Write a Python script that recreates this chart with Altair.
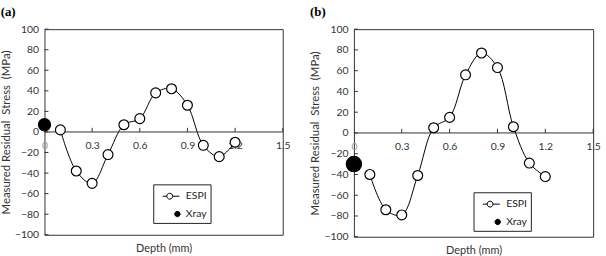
import altair as alt
import pandas as pd

depth = [0.1, 0.2, 0.3, 0.4, 0.5, 0.6, 0.7, 0.8, 0.9, 1.0, 1.1, 1.2]
espi_a = [2, -38, -50, -22, 7, 13, 38, 42, 26, -13, -24, -10]
espi_b = [-40, -74, -79, -41, 5, 15, 56, 77, 63, 6, -29, -42]
xray_depth = [0.0]
xray_a = [7]
xray_b = [-30]
y_ticks = [-100, -80, -60, -40, -20, 0, 20, 40, 60, 80, 100]
x_ticks = [0.0, 0.3, 0.6, 0.9, 1.2, 1.5]
series = ["ESPI", "Xray"]

FONT = "Lato"
NB = "\u00a0"
Y_TITLE = f"Measured Residual {NB}Stress {NB}(MPa)"
ESPI_PATH = "M-1,0H-0.5M0.2,0H1M-0.5,0A0.35,0.35 0 1,0 0.2,0A0.35,0.35 0 1,0 -0.5,0Z"
XRAY_PATH = "M0.44,0A0.32,0.32 0 1,0 1.08,0A0.32,0.32 0 1,0 0.44,0Z"


def panel(label, espi, xray, w, h, lx, ly, lab_pad, xray_size):
    df_line = pd.DataFrame({"depth": depth, "stress": espi})
    df_pts = pd.DataFrame({
        "depth": depth + xray_depth,
        "stress": espi + xray,
        "series": ["ESPI"] * len(depth) + ["Xray"] * len(xray),
    })
    df_xt = pd.DataFrame({"depth": x_ticks[1:], "stress": [0] * 5, "stress2": [4] * 5})
    df_yt = pd.DataFrame({"stress": y_ticks})
    df_zero = pd.DataFrame({"stress": [0]})

    xs = alt.Scale(domain=[0, 1.5], nice=False, zero=False)
    ys = alt.Scale(domain=[-100, 100], nice=False)
    fill_scale = alt.Scale(domain=series, range=["white", "black"])

    x_axis = alt.Axis(
        values=x_ticks, domain=False, ticks=False, grid=False,
        labelPadding=lab_pad, labelFlush=False, labelOverlap=False,
        labelFont=FONT, labelFontSize=10.5,
        labelExpr="datum.value == 0 ? '0' : format(datum.value, '.1f')",
        labelColor={"condition": {"test": "datum.value == 0", "value": "#999"}, "value": "#333"},
        title="Depth (mm)", titleFont=FONT, titleFontSize=11, titleFontWeight="normal",
        titleColor="#333", titlePadding=8,
    )
    y_axis = alt.Axis(
        values=y_ticks, domain=False, ticks=False, grid=False,
        labelPadding=6, labelOverlap=False, labelFont=FONT, labelFontSize=10.5, labelColor="#333",
        title=Y_TITLE, titleFont=FONT, titleFontSize=11.5,
        titleFontWeight="normal", titleColor="#333", titlePadding=3,
    )
    legend = alt.Legend(
        title=None, orient="none", legendX=lx, legendY=ly,
        symbolSize=289, symbolOffset=6, labelOffset=6, rowPadding=3,
        padding=3, strokeColor="#222", fillColor="white",
        symbolStrokeColor="black", symbolStrokeWidth=1,
        labelFont=FONT, labelFontSize=10.5, labelColor="#222",
        labelExpr="datum.label + '      '",
    )
    X = lambda f: alt.X(f, scale=xs, axis=x_axis, title="Depth (mm)")
    Y = lambda f: alt.Y(f, scale=ys, axis=y_axis, title=Y_TITLE)

    zero = alt.Chart(df_zero).mark_rule(color="#333", strokeWidth=1).encode(y=Y("stress:Q"))
    yt = alt.Chart(df_yt).mark_rule(color="#333", strokeWidth=1).encode(
        y=Y("stress:Q"), x=alt.value(0), x2=alt.value(4)
    )
    xt = alt.Chart(df_xt).mark_rule(color="#333", strokeWidth=1).encode(
        x=X("depth:Q"), y=Y("stress:Q"), y2="stress2:Q"
    )
    line = alt.Chart(df_line).mark_line(
        interpolate="catmull-rom", color="black", strokeWidth=1
    ).encode(x=X("depth:Q"), y=Y("stress:Q"))
    pts = alt.Chart(df_pts).mark_point(
        filled=True, stroke="black", strokeWidth=1.2, opacity=1, shape="circle"
    ).encode(
        x=X("depth:Q"), y=Y("stress:Q"),
        fill=alt.Fill("series:N", scale=fill_scale, legend=legend),
        size=alt.condition(alt.datum.series == "Xray", alt.value(xray_size), alt.value(100)),
    )
    leg = alt.Chart(df_pts).transform_filter("false").mark_point(
        filled=True, stroke="black", strokeWidth=1, opacity=1
    ).encode(
        x=X("depth:Q"), y=Y("stress:Q"),
        fill=alt.Fill("series:N", scale=fill_scale, legend=legend),
        shape=alt.Shape("series:N", scale=alt.Scale(domain=series, range=[ESPI_PATH, XRAY_PATH]),
                        legend=legend),
    )
    return alt.layer(line, zero, yt, xt, pts, leg).properties(
        width=w, height=h,
        title=alt.TitleParams(label, anchor="start", frame="bounds", font="Liberation Serif",
                              fontWeight="bold", fontSize=13, color="black", offset=5),
    )


pa = panel("(a)", espi_a, xray_a, 241, 208, 110, 157, -95, 150)
pb = panel("(b)", espi_b, xray_b, 242, 210, 121, 165, -96, 240)

chart = alt.hconcat(pa, pb, spacing=72, bounds="flush").resolve_scale(
    fill="independent", shape="independent"
).resolve_legend(fill="independent", shape="independent").configure_view(
    stroke="#333", strokeWidth=1
).configure_axis(labelOverlap=False).properties(
    padding={"left": 0, "top": 4, "right": 5, "bottom": 0}, background="white"
)

chart.save("out.html", embed_options={"renderer": "svg", "actions": False})
